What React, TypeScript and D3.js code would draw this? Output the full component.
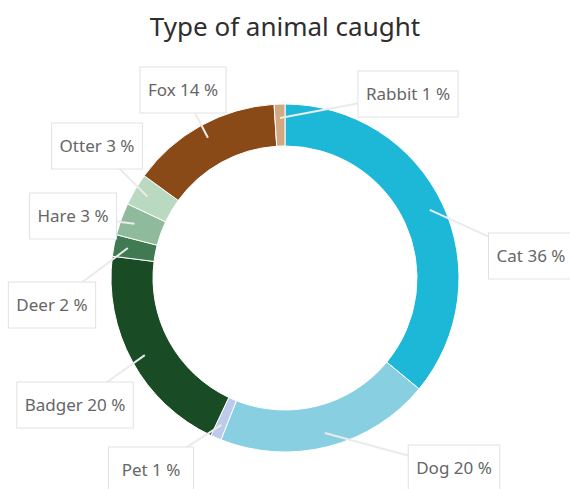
import React, { useMemo } from "react";
import * as d3 from "d3";

const categories = ["Cat", "Dog", "Pet", "Badger", "Deer", "Hare", "Otter", "Fox", "Rabbit"];
const values = [36, 20, 1, 20, 2, 3, 3, 14, 1];
const colors = ["#1db8d8", "#88d0e1", "#bccbea", "#194b24", "#3f7a52", "#8fba9c", "#b9d9c1", "#8a4a17", "#d4a982"];
const title = "Type of animal caught";

// label box centers relative to the pie centre (layout)
const labelOffsets: [number, number][] = [
  [246, -22],
  [169, 190],
  [-134, 192],
  [-210, 127],
  [-233, 27],
  [-212, -62],
  [-188, -132],
  [-102, -188],
  [123, -184],
];

const W = 570;
const H = 489;
const cx = 285;
const cy = 278;
const outerR = 174;
const innerR = 132;
const FONT = "'Noto Sans', sans-serif";

function measure(text: string, size: number) {
  const c = document.createElement("canvas");
  const ctx = c.getContext("2d");
  if (!ctx) return text.length * size * 0.55;
  ctx.font = `${size}px 'Noto Sans'`;
  return ctx.measureText(text).width;
}

export default function App() {
  const arcs = useMemo(() => {
    const pie = d3.pie<number>().sort(null).value((d) => d).startAngle(0).endAngle(2 * Math.PI);
    return pie(values);
  }, []);
  const arcGen = d3.arc<d3.PieArcDatum<number>>().innerRadius(innerR).outerRadius(outerR);

  const labels = arcs.map((a, i) => {
    const text = `${categories[i]} ${values[i]} %`;
    const tw = measure(text, 17);
    const bw = Math.max(tw + 16, 85);
    const bh = 46;
    const [dx, dy] = labelOffsets[i];
    const mid = (a.startAngle + a.endAngle) / 2;
    const er = 160;
    const ex = Math.sin(mid) * er;
    const ey = -Math.cos(mid) * er;
    return { text, bw, bh, dx, dy, ex, ey };
  });

  return (
    <svg
      width={W}
      height={H}
      style={{ position: "absolute", left: 0, top: 0, display: "block", background: "#fff" }}
    >
      <text x={cx} y={36} textAnchor="middle" fontFamily={FONT} fontSize={26} fill="#2e2e2e">
        {title}
      </text>
      <g transform={`translate(${cx},${cy})`}>
        {arcs.map((a, i) => (
          <path key={i} d={arcGen(a) || ""} fill={colors[i]} stroke="#ffffff" strokeWidth={1} />
        ))}
        {labels.map((l, i) => (
          <line key={"l" + i} x1={l.dx} y1={l.dy} x2={l.ex} y2={l.ey} stroke="#ebebeb" strokeWidth={2} />
        ))}
        {labels.map((l, i) => (
          <g key={"b" + i}>
            <rect
              x={l.dx - l.bw / 2}
              y={l.dy - l.bh / 2}
              width={l.bw}
              height={l.bh}
              fill="#ffffff"
              stroke="#e2e2e2"
              strokeWidth={1}
            />
            <text
              x={l.dx}
              y={l.dy + 6}
              textAnchor="middle"
              fontFamily={FONT}
              fontSize={17}
              fill="#666666"
            >
              {l.text}
            </text>
          </g>
        ))}
      </g>
    </svg>
  );
}
